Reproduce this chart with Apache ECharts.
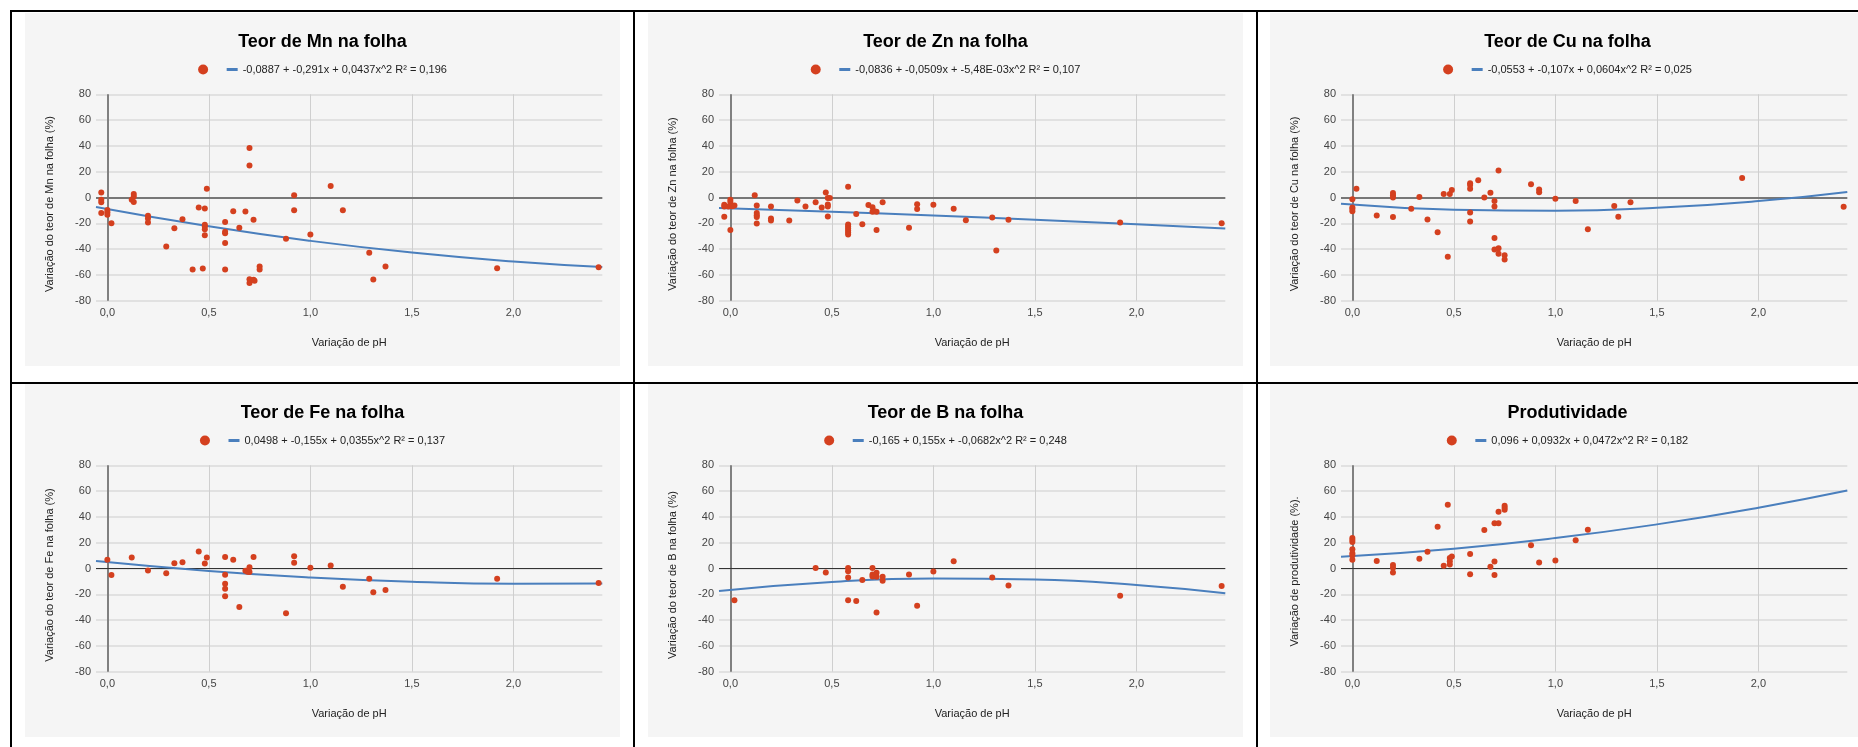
<!DOCTYPE html>
<html>
<head>
<meta charset="utf-8">
<script src="https://cdn.jsdelivr.net/npm/echarts@6/dist/echarts.min.js"></script>
<style>
html, body { margin: 0; padding: 0; background: #ffffff; width: 1858px; height: 747px; overflow: hidden; position: relative; }
.rule { position: absolute; background: #000000; }
.panel { position: absolute; width: 595px; height: 353px; background: #f5f5f5; }
</style>
</head>
<body>
<div class="rule" style="left:10px;top:10px;width:1848px;height:2px;"></div>
<div class="rule" style="left:10px;top:10px;width:2px;height:737px;"></div>
<div class="rule" style="left:633px;top:10px;width:2px;height:737px;"></div>
<div class="rule" style="left:1256px;top:10px;width:2px;height:737px;"></div>
<div class="rule" style="left:10px;top:382px;width:1848px;height:2px;"></div>

<div id="c0" class="panel" style="left:25px;top:13px;"></div>
<div id="c1" class="panel" style="left:648px;top:13px;"></div>
<div id="c2" class="panel" style="left:1270px;top:13px;"></div>
<div id="c3" class="panel" style="left:25px;top:384px;"></div>
<div id="c4" class="panel" style="left:648px;top:384px;"></div>
<div id="c5" class="panel" style="left:1270px;top:384px;"></div>

<script>
// ---------- tick labels ----------
const xTickValues = [0, 0.5, 1, 1.5, 2];
const xTickLabels = ['0,0', '0,5', '1,0', '1,5', '2,0'];
const yMin = -80;
const yMax = 80;
const yStep = 20;

// ---------- texts ----------
const titles = [
  'Teor de Mn na folha',
  'Teor de Zn na folha',
  'Teor de Cu na folha',
  'Teor de Fe na folha',
  'Teor de B na folha',
  'Produtividade'
];
const trendLabels = [
  '-0,0887 + -0,291x + 0,0437x^2 R² = 0,196',
  '-0,0836 + -0,0509x + -5,48E-03x^2 R² = 0,107',
  '-0,0553 + -0,107x + 0,0604x^2 R² = 0,025',
  '0,0498 + -0,155x + 0,0355x^2 R² = 0,137',
  '-0,165 + 0,155x + -0,0682x^2 R² = 0,248',
  '0,096 + 0,0932x + 0,0472x^2 R² = 0,182'
];
const yNames = [
  'Variação do teor de Mn na folha (%)',
  'Variação do teor de Zn na folha (%)',
  'Variação do teor de Cu na folha (%)',
  'Variação do teor de Fe na folha (%)',
  'Variação do teor de B na folha (%)',
  'Variação de produtividade (%).'
];
const xName = 'Variação de pH';

// ---------- scatter data ----------
const mnX = [-0.03,-0.03,-0.03,-0.03, 0,0,0, 0.02, 0.13,0.13,0.12,0.13, 0.2,0.2,0.2, 0.29, 0.33, 0.37, 0.42, 0.45, 0.47, 0.48, 0.49, 0.48,0.48,0.48,0.48, 0.58,0.58,0.58,0.58,0.58, 0.62, 0.65, 0.68, 0.7,0.7,0.7,0.7, 0.72, 0.725, 0.72, 0.75,0.75, 0.92,0.92, 0.88, 1.0, 1.1, 1.16, 1.29, 1.31, 1.37, 1.92, 2.42];
const mnY = [3.9,-1.8,-3.6,-12.1, -9.6,-11.4,-13.4, -19.9, 2.8,0.8,-1.8,-3.4, -14.2,-16.3,-19.4, -38, -23.8, -16.8, -55.8, -7.8, -55, -8.5, 6.7, -21.2,-22.5,-24.6,-29.2, -18.9,-26.6,-27.7,-35.2,-55.8, -10.6, -23.5, -10.9, 38.3,24.8,-63.3,-66.2, -63.8, -64.6, -17.3, -53.5,-55.8, 1.8,-9.8, -32, -28.7, 9, -9.8, -42.9, -63.6, -53.5, -54.8, -54];

const znX = [-0.03,-0.03,-0.03, 0,0,0,0, 0.02, -0.01, 0.01, 0.12, 0.13,0.13,0.13,0.13,0.13, 0.2,0.2,0.2, 0.29, 0.33, 0.37, 0.42, 0.45, 0.47, 0.48, 0.49, 0.48,0.48,0.48, 0.58,0.58,0.58,0.58,0.58,0.58,0.58, 0.62, 0.65, 0.68, 0.7,0.7, 0.71, 0.72, 0.72, 0.75, 0.88, 0.92,0.92, 1.0, 1.1, 1.16, 1.29, 1.31, 1.37, 1.92, 2.42];
const znY = [-5.7,-7,-15, -1.8,-3.4,-6.5,-25.1, -6.2, -7, -6.8, 1.8, -6.2,-12.1,-13.7,-15.2,-20.2, -7,-16.3,-17.8, -17.8, -2.3, -7, -3.6, -7.8, 3.9, -0.3, -0.3, -5.4,-7,-14.7, 8.3,-20.9,-22.5,-24,-25.6,-27.1,-28.7, -12.7, -20.7, -5.9, -7.5,-11.1, -10.6, -11.1, -25.1, -3.6, -23.5, -5.2,-9, -5.7, -8.8, -17.6, -15.5, -41.1, -17.3, -19.4, -19.9];

const cuX = [0,0,0,0, 0.02, 0.12, 0.2,0.2,0.2,0.2, 0.29, 0.33, 0.37, 0.42, 0.45, 0.47, 0.48, 0.49, 0.58,0.58,0.58,0.58,0.58, 0.62, 0.65, 0.68, 0.7,0.7,0.7,0.7, 0.72,0.72,0.72, 0.75,0.75, 0.88, 0.92,0.92, 1.0, 1.1, 1.16, 1.29, 1.31, 1.37, 1.92, 2.42];
const cuY = [-1.3,-7.8,-9,-10.6, 6.7, -14, 3.4,1.8,0,-15.2, -8.8, 0.3, -17.1, -26.9, 2.8, -46, 2.8, 5.9, 11.1,9.6,6.7,-11.6,-18.6, 13.4, 0, 3.6, -2.8,-7,-31.3,-40.3, 20.9,-39.3,-43.7, -44.7,-48.1, 10.3, 6.2,4.1, -1, -2.8, -24.6, -6.5, -15, -3.6, 15.2, -7.2];

const feX = [0, 0.02, 0.12, 0.2, 0.29, 0.33, 0.37, 0.45, 0.48, 0.49, 0.58,0.58,0.58,0.58,0.58, 0.62, 0.65, 0.68, 0.69, 0.7,0.7, 0.72, 0.88, 0.92,0.92, 1.0, 1.1, 1.16, 1.29, 1.31, 1.37, 1.92, 2.42];
const feY = [6.7, -5.1, 8.5, -1.5, -3.6, 4.1, 4.9, 13.1, 3.9, 8.5, 9,-4.9,-11.8,-15.7,-21.6, 6.7, -29.8, -1.8, -2.6, 1,-2.8, 9, -34.7, 9.5,4.4, 0.5, 2.3, -14.1, -8, -18.5, -16.7, -8, -11.3];

const bX = [0.02, 0.42, 0.47, 0.58,0.58,0.58,0.58, 0.62, 0.65, 0.7,0.7,0.7, 0.71, 0.72,0.72,0.72, 0.75,0.75, 0.88, 0.92, 1.0, 1.1, 1.29, 1.37, 1.92, 2.42];
const bY = [-24.7, 0.3, -3.1, 0.3,-2.1,-6.9,-24.7, -25.2, -9, 0.3,-4.6,-6.2, -5.4, -3.3,-6.4,-34.2, -6.4,-9.5, -4.6, -28.8, -2.3, 5.7, -6.9, -13.1, -21.1, -13.6];

const prodX = [0,0,0,0,0,0,0, 0.12, 0.2,0.2,0.2, 0.33, 0.37, 0.42, 0.45, 0.47, 0.48,0.48,0.48, 0.49, 0.58,0.58, 0.65, 0.68, 0.7,0.7,0.7, 0.72,0.72, 0.75,0.75,0.75, 0.88, 0.92, 1.0, 1.1, 1.16];
const prodY = [23.7,22.1,20.6,14.9,11.8,10,6.7, 5.9, 2.8,0.5,-3.1, 7.5, 12.9, 32.4, 2.1, 49.4, 8.2,5.7,3.1, 9.3, 11.3,-4.4, 29.8, 1.3, 35,5.4,-5.1, 35,44, 48.6,47.1,45.5, 18, 4.6, 6.2, 21.9, 30.1];

// ---------- trend lines ----------
const trendX = [-0.056, 0.5, 1, 1.5, 2, 2.438];
const mnTrend = [-7.3, -22.3, -33.6, -42.7, -49.6, -53.9];
const znTrend = [-8.1, -11.0, -14.0, -17.2, -20.7, -24.0];
const cuTrend = [-4.9, -9.4, -10.2, -8.0, -2.8, 4.3];
const feTrend = [5.8, -1.9, -7.0, -10.3, -11.8, -11.7];
const bTrend = [-17.4, -10.5, -7.8, -8.6, -12.8, -19.2];
const prodTrend = [9.1, 15.4, 23.6, 34.2, 47.1, 60.4];

const scatterXs = [mnX, znX, cuX, feX, bX, prodX];
const scatterYs = [mnY, znY, cuY, feY, bY, prodY];
const trends = [mnTrend, znTrend, cuTrend, feTrend, bTrend, prodTrend];

// ---------- styling ----------
const FONT = 'Liberation Sans, Arial, sans-serif';
const RED = '#d4401f';
const BLUE = '#4a7fbd';
const yNamePad = [13, 13, 13, 13, 13, 6];

function pairs(xs, ys) {
  return xs.map((x, k) => [x, ys[k]]);
}

function buildOption(i) {
  const row1 = i < 3;
  return {
    animation: false,
    backgroundColor: '#f5f5f5',
    title: {
      text: titles[i],
      left: 'center',
      top: 20,
      padding: 0,
      textStyle: { fontFamily: FONT, fontSize: 18, fontWeight: 'bold', color: '#000000' }
    },
    legend: {
      left: 'center',
      top: 51,
      padding: 0,
      itemGap: 10,
      itemWidth: 11,
      itemHeight: 10,
      textStyle: { fontFamily: FONT, fontSize: 11, color: '#222222' },
      data: [
        { name: ' ', icon: 'circle', itemStyle: { color: RED } },
        { name: trendLabels[i], icon: 'path://M0,0H11V3H0Z', itemStyle: { color: BLUE } }
      ]
    },
    grid: { left: 71, top: 81.3, width: 506.3, height: 206.4, containLabel: false },
    xAxis: {
      type: 'value',
      min: -0.056,
      max: 2.438,
      name: xName,
      nameLocation: 'middle',
      nameGap: 37,
      nameTextStyle: { fontFamily: FONT, fontSize: 11, color: '#222222' },
      axisLine: { show: false },
      axisTick: { show: false, customValues: xTickValues },
      axisLabel: {
        customValues: xTickValues,
        margin: 7,
        fontFamily: FONT, fontSize: 11, color: '#444444',
        formatter: function (v) {
          const k = xTickValues.findIndex(t => Math.abs(t - v) < 1e-9);
          return k >= 0 ? xTickLabels[k] : '';
        }
      },
      splitLine: { show: true, lineStyle: { color: '#cfcfcf', width: 1 } }
    },
    yAxis: {
      type: 'value',
      min: yMin,
      max: yMax,
      interval: yStep,
      name: yNames[i],
      nameLocation: 'middle',
      nameGap: 41,
      nameTextStyle: { fontFamily: FONT, fontSize: 11, color: '#222222', padding: [0, yNamePad[i], 0, 0] },
      axisLine: { show: false },
      axisTick: { show: false },
      axisLabel: { margin: 5, fontFamily: FONT, fontSize: 11, color: '#444444' },
      splitLine: { show: true, lineStyle: { color: '#dadada', width: 1.5 } }
    },
    series: [
      {
        name: ' ',
        type: 'scatter',
        z: 3,
        symbol: 'circle',
        symbolSize: 6,
        itemStyle: { color: RED, opacity: 1 },
        data: pairs(scatterXs[i], scatterYs[i]),
        markLine: {
          silent: true,
          z: 1,
          symbol: ['none', 'none'],
          label: { show: false },
          emphasis: { disabled: true },
          data: [
            { xAxis: 0, lineStyle: { color: '#808080', width: 2, type: 'solid' } },
            { yAxis: 0, lineStyle: row1 ? { color: '#777777', width: 2, type: 'solid' } : { color: '#333333', width: 1, type: 'solid' } }
          ]
        }
      },
      {
        name: trendLabels[i],
        type: 'line',
        z: 2,
        smooth: true,
        symbol: 'none',
        showSymbol: false,
        lineStyle: { color: BLUE, width: 2 },
        itemStyle: { color: BLUE },
        data: pairs(trendX, trends[i])
      }
    ]
  };
}

for (let i = 0; i < 6; i++) {
  const chart = echarts.init(document.getElementById('c' + i), null, { renderer: 'canvas' });
  chart.setOption(buildOption(i));
}
</script>
</body>
</html>
